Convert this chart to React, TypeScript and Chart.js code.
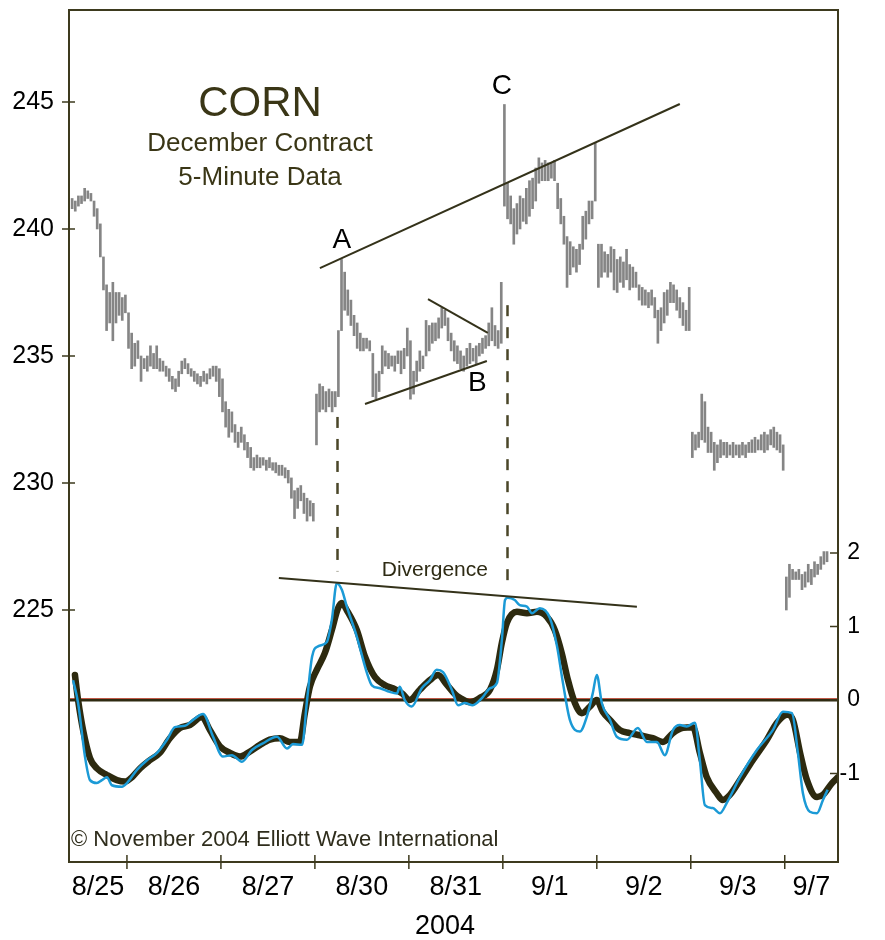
import React, { useEffect, useRef } from 'react';
import { Chart, registerables } from 'chart.js';

Chart.register(...registerables);

// ---------- data ----------
const dayLabels = ['8/25', '8/26', '8/27', '8/30', '8/31', '9/1', '9/2', '9/3', '9/7'];
const yearLabel = '2004';
const barsPerDay = 30;
// first visible 5-minute slot of each session
const firstSlot = [12, 0, 0, 0, 0, 0, 0, 0, 0];

// [low, high] for each 5-minute bar
const aug25 = [[240.8,241.2],[240.7,241.1],[240.9,241.3],[241.0,241.3],[241.1,241.6],[241.2,241.5],[241.1,241.4],[240.5,241.1],[240.0,240.8],[238.9,240.2],[237.6,238.9],[236.0,237.8],[236.3,237.5],[235.6,237.9],[236.3,237.5],[236.6,237.5],[236.4,237.3],[236.7,237.4]];
const aug26 = [[235.3,236.7],[234.5,235.9],[234.6,235.5],[234.9,235.6],[234.0,235.0],[234.5,234.9],[234.4,235.0],[234.6,235.4],[234.5,235.1],[234.5,235.4],[234.4,234.9],[234.4,234.8],[234.2,234.6],[234.0,234.5],[233.7,234.2],[233.6,234.1],[233.8,234.4],[234.3,234.8],[234.5,234.9],[234.3,234.7],[234.2,234.5],[234.0,234.4],[233.9,234.3],[233.8,234.2],[234.0,234.4],[233.9,234.3],[234.1,234.5],[234.2,234.6],[234.0,234.6],[233.4,234.5]];
const aug27 = [[232.8,234.1],[232.2,233.2],[231.8,232.9],[232.0,232.8],[231.6,232.3],[231.4,232.0],[231.6,232.2],[231.3,231.9],[231.0,231.6],[230.6,231.4],[230.5,231.0],[230.6,231.1],[230.6,231.0],[230.7,231.0],[230.5,230.9],[230.6,231.0],[230.5,230.8],[230.4,230.8],[230.3,230.7],[230.3,230.7],[230.2,230.6],[230.0,230.5],[229.4,230.2],[228.6,229.7],[229.0,229.8],[229.3,229.9],[228.8,229.6],[228.5,229.4],[228.7,229.3],[228.5,229.2]];
const aug30 = [[231.5,233.5],[232.8,233.9],[232.9,233.8],[232.8,233.6],[233.0,233.7],[232.8,233.6],[233.0,233.6],[233.4,236.0],[236.0,238.8],[236.8,238.3],[236.6,237.6],[236.2,237.2],[235.8,236.6],[235.3,236.3],[235.2,235.9],[235.2,235.7],[235.3,235.7],[235.2,235.6],[233.4,235.1],[233.3,234.3],[233.6,234.4],[234.3,235.4],[234.6,235.2],[234.5,235.1],[234.6,235.0],[234.4,235.0],[234.7,235.2],[234.3,235.2],[234.5,235.3],[235.0,236.1]];
const aug31 = [[233.3,235.6],[233.5,234.4],[234.0,234.8],[234.4,235.2],[234.5,235.0],[235.0,236.4],[235.2,236.2],[235.5,236.3],[235.6,236.3],[235.7,236.5],[236.1,236.9],[236.2,236.8],[235.6,236.5],[235.2,235.9],[234.8,235.6],[234.7,235.4],[234.5,235.2],[234.4,235.0],[234.6,235.3],[234.7,235.5],[234.8,235.3],[234.7,235.4],[235.0,235.5],[235.1,235.7],[235.3,235.8],[235.4,236.3],[235.6,236.9],[235.4,236.2],[235.3,236.0],[235.5,237.9]];
const sep1 = [[240.9,244.9],[240.4,241.8],[240.2,241.3],[239.4,240.8],[239.8,241.0],[240.0,241.3],[240.3,241.2],[240.2,241.6],[240.5,241.9],[240.8,242.0],[241.1,242.4],[241.8,242.8],[241.9,242.6],[241.9,242.7],[241.9,242.6],[242.0,242.6],[241.9,242.7],[240.8,241.8],[240.2,241.2],[239.4,240.5],[237.7,239.7],[238.2,239.5],[238.5,239.3],[238.3,239.2],[238.6,239.4],[239.2,240.5],[239.6,240.7],[240.2,241.1],[240.4,241.1],[241.1,243.4]];
const sep2 = [[237.7,239.4],[238.1,239.4],[238.3,239.1],[238.1,239.0],[238.3,239.3],[237.6,239.2],[237.5,238.8],[237.9,238.9],[237.7,238.7],[238.0,239.2],[237.6,238.6],[237.7,238.5],[237.7,238.3],[237.2,237.8],[237.0,237.7],[237.0,237.6],[236.9,237.5],[237.0,237.6],[236.5,237.3],[235.5,236.8],[236.0,236.9],[236.3,237.5],[236.6,237.6],[237.1,237.9],[237.1,237.8],[236.8,237.6],[236.5,237.3],[236.2,237.1],[236.0,236.8],[236.0,237.7]];
const sep3 = [[231.0,232.0],[231.3,231.9],[231.4,232.0],[231.7,233.5],[231.6,233.2],[231.2,232.2],[231.2,232.0],[230.5,231.6],[230.8,231.5],[231.0,231.7],[231.1,231.6],[231.0,231.6],[231.1,231.5],[231.0,231.6],[231.1,231.5],[231.0,231.5],[231.1,231.6],[231.0,231.5],[231.2,231.6],[231.2,231.7],[231.2,231.8],[231.3,231.7],[231.3,231.9],[231.2,232.0],[231.3,231.9],[231.5,232.1],[231.4,232.2],[231.3,232.0],[231.2,231.9],[230.5,231.5]];
const sep7 = [[225.0,226.3],[225.5,226.8],[226.2,226.6],[226.2,226.5],[226.2,226.6],[225.8,226.4],[225.9,226.5],[226.1,226.8],[226.0,226.6],[226.3,226.9],[226.4,226.8],[226.6,227.1],[226.8,227.3],[226.9,227.3]];

// oscillator: [time in 5-minute slots, value]
const smoothOsc = [[13.4,0.34],[14.4,0.0],[16.0,-0.41],[18.2,-0.79],[20.4,-0.93],[23.6,-1.02],[26.8,-1.09],[29.4,-1.11],[31.6,-1.05],[34.2,-0.93],[37.3,-0.82],[40.5,-0.72],[43.7,-0.52],[46.9,-0.38],[50.1,-0.34],[53.9,-0.23],[56.5,-0.41],[59.7,-0.63],[62.9,-0.72],[66.1,-0.77],[69.3,-0.70],[72.5,-0.61],[75.6,-0.54],[78.8,-0.52],[82.0,-0.57],[85.2,-0.57],[86.8,-0.18],[88.4,0.18],[90.6,0.41],[93.2,0.64],[95.4,0.95],[97.4,1.25],[98.6,1.32],[100.2,1.22],[103.4,0.95],[106.0,0.59],[109.2,0.31],[112.4,0.20],[114.9,0.16],[117.8,0.09],[120.3,0.0],[123.5,0.14],[126.7,0.27],[129.3,0.34],[132.1,0.21],[134.7,0.08],[136.3,0.03],[139.5,-0.03],[142.7,0.03],[145.9,0.14],[148.1,0.41],[149.7,0.78],[151.3,1.05],[154.5,1.20],[157.7,1.18],[160.9,1.20],[164.1,1.13],[166.6,0.95],[168.8,0.64],[170.8,0.27],[173.0,-0.04],[175.2,-0.18],[177.8,-0.09],[180.0,0.0],[181.9,-0.16],[184.2,-0.27],[187.4,-0.41],[190.5,-0.45],[193.7,-0.48],[197.9,-0.52],[201.1,-0.57],[204.3,-0.45],[207.5,-0.38],[210.7,-0.37],[212.9,-0.72],[215.1,-1.05],[218.3,-1.27],[220.2,-1.36],[222.5,-1.29],[225.7,-1.09],[229.8,-0.82],[234.3,-0.54],[237.5,-0.31],[240.7,-0.20],[242.6,-0.27],[244.9,-0.72],[247.1,-1.09],[250.3,-1.32],[252.2,-1.29],[255.1,-1.13],[257.0,-1.05]];
const rawOsc = [[12.8,0.27],[14.4,-0.04],[16.6,-0.77],[18.2,-1.09],[20.4,-1.13],[22.0,-1.09],[23.6,-1.05],[25.2,-1.16],[28.4,-1.18],[30.0,-1.13],[33.2,-0.95],[36.4,-0.82],[39.6,-0.72],[42.8,-0.54],[45.3,-0.37],[48.5,-0.35],[51.1,-0.27],[54.3,-0.19],[57.5,-0.50],[60.6,-0.77],[63.5,-0.75],[66.7,-0.84],[69.9,-0.68],[73.4,-0.59],[77.9,-0.50],[81.1,-0.66],[83.0,-0.60],[85.9,-0.61],[87.5,0.0],[89.1,0.59],[91.0,0.73],[93.8,0.79],[95.4,1.09],[97.0,1.59],[98.6,1.50],[100.2,1.27],[103.4,0.86],[106.6,0.37],[108.2,0.20],[110.8,0.16],[113.9,0.11],[116.2,0.09],[117.1,0.18],[118.7,0.0],[120.9,-0.09],[124.1,0.16],[126.7,0.27],[128.9,0.41],[130.9,0.38],[133.7,0.14],[135.7,-0.07],[137.9,-0.04],[140.4,-0.07],[143.6,0.04],[145.9,0.16],[148.1,0.23],[149.7,0.82],[150.7,1.36],[151.6,1.39],[153.8,1.36],[155.4,1.29],[157.7,1.27],[159.3,1.18],[161.8,1.25],[165.0,1.12],[167.3,0.73],[169.2,0.23],[171.4,-0.27],[174.6,-0.43],[176.8,-0.23],[178.7,0.09],[180.0,0.34],[181.6,-0.04],[184.2,-0.27],[186.4,-0.50],[189.6,-0.54],[193.1,-0.38],[196.0,-0.57],[199.2,-0.57],[201.7,-0.75],[204.3,-0.41],[206.5,-0.34],[208.7,-0.36],[211.3,-0.31],[212.9,-0.82],[214.5,-1.43],[217.0,-1.47],[219.3,-1.54],[221.5,-1.40],[225.7,-1.05],[231.1,-0.68],[236.2,-0.41],[239.4,-0.16],[242.3,-0.18],[244.2,-0.72],[245.8,-1.27],[248.0,-1.52],[250.3,-1.54],[252.2,-1.36],[253.7,-1.22]];

const priceTicks = [225, 230, 235, 240, 245];
const oscTicks = [-1, 0, 1, 2];
const priceRange = [215.08, 248.62];
const oscRange = [-2.204, 9.388];
const timeRange = [11.5, 257];

// annotations (time slot, price / oscillator value)
const trendAC = [[91.6, 238.46], [206.5, 244.92]];
const triangleLow = [[106.0, 233.11], [144.9, 234.80]];
const triangleHigh = [[126.1, 237.24], [145.2, 235.91]];
const divergenceLine = [[78.5, 1.66], [192.8, 1.27]];
const dashedMarks = [
  { t: 97.0, price: 232.6, osc: 1.75 },
  { t: 151.3, price: 237.0, osc: 1.56 },
];
const waveLabels = [
  { text: 'A', t: 98.6, price: 239.57 },
  { text: 'B', t: 141.9, price: 233.94 },
  { text: 'C', t: 149.7, price: 245.6 },
];
const divergenceLabel = { text: 'Divergence', t: 128.3, osc: 1.76 };
const titleLines = ['CORN', 'December Contract', '5-Minute Data'];
const copyright = '\u00A9 November 2004 Elliott Wave International';

const FONT = '"Liberation Sans", Arial, Helvetica, sans-serif';
const OLIVE = '#3a3616';
const FRAME = '#3d3a1e';

const sessions = [aug25, aug26, aug27, aug30, aug31, sep1, sep2, sep3, sep7];

function buildBars() {
  const out: { x: number; y: number[] }[] = [];
  sessions.forEach((bars, d) => {
    bars.forEach((b, i) => {
      out.push({ x: d * barsPerDay + firstSlot[d] + i + 0.5, y: b });
    });
  });
  return out;
}

function labelCenters() {
  return dayLabels.map((_, d) => {
    const a = Math.max(d * barsPerDay, timeRange[0]);
    const b = Math.min((d + 1) * barsPerDay, timeRange[1]);
    return (a + b) / 2;
  });
}

const overlay = {
  id: 'overlay',
  beforeDatasetsDraw(chart: any) {
    const { ctx, chartArea: ca, scales } = chart;
    const y0 = scales.y2.getPixelForValue(0);
    ctx.save();
    ctx.strokeStyle = '#2e2a10';
    ctx.lineWidth = 3;
    ctx.beginPath();
    ctx.moveTo(ca.left, y0);
    ctx.lineTo(ca.right, y0);
    ctx.stroke();
    ctx.strokeStyle = 'rgba(205,70,50,0.75)';
    ctx.lineWidth = 1;
    ctx.beginPath();
    ctx.moveTo(ca.left, y0 - 1.5);
    ctx.lineTo(ca.right, y0 - 1.5);
    ctx.stroke();
    ctx.restore();
  },
  afterDatasetsDraw(chart: any) {
    const { ctx, chartArea: ca, scales } = chart;
    const x = scales.x, y = scales.y, y2 = scales.y2;
    ctx.save();
    // frame
    ctx.strokeStyle = FRAME;
    ctx.lineWidth = 2;
    ctx.strokeRect(ca.left, ca.top, ca.right - ca.left, ca.bottom - ca.top);
    // tick marks
    ctx.lineWidth = 1.5;
    ctx.beginPath();
    priceTicks.forEach((v) => {
      const py = y.getPixelForValue(v);
      ctx.moveTo(ca.left - 7, py);
      ctx.lineTo(ca.left + 6, py);
    });
    oscTicks.forEach((v) => {
      const py = y2.getPixelForValue(v);
      ctx.moveTo(ca.right - 8, py);
      ctx.lineTo(ca.right + 1, py);
    });
    for (let d = 1; d < dayLabels.length; d++) {
      const px = x.getPixelForValue(d * barsPerDay);
      ctx.moveTo(px, ca.bottom - 7);
      ctx.lineTo(px, ca.bottom + 7);
    }
    ctx.stroke();

    // right-axis labels, right aligned
    ctx.fillStyle = '#000';
    ctx.font = `23px ${FONT}`;
    ctx.textAlign = 'right';
    ctx.textBaseline = 'middle';
    oscTicks.forEach((v) => {
      ctx.fillText(String(v), ca.right + 22, y2.getPixelForValue(v));
    });

    // trend lines
    ctx.strokeStyle = '#34321a';
    ctx.lineWidth = 2;
    const seg = (pts: number[][], sc: any) => {
      ctx.beginPath();
      ctx.moveTo(x.getPixelForValue(pts[0][0]), sc.getPixelForValue(pts[0][1]));
      ctx.lineTo(x.getPixelForValue(pts[1][0]), sc.getPixelForValue(pts[1][1]));
      ctx.stroke();
    };
    seg(trendAC, y);
    seg(triangleLow, y);
    seg(triangleHigh, y);
    seg(divergenceLine, y2);

    // dashed verticals
    ctx.strokeStyle = '#4a4628';
    ctx.lineWidth = 2.5;
    ctx.setLineDash([11, 11]);
    dashedMarks.forEach((m) => {
      const px = Math.round(x.getPixelForValue(m.t)) + 0.5;
      ctx.beginPath();
      ctx.moveTo(px, y.getPixelForValue(m.price));
      ctx.lineTo(px, y2.getPixelForValue(m.osc));
      ctx.stroke();
    });
    ctx.setLineDash([]);

    // texts
    ctx.textAlign = 'center';
    ctx.textBaseline = 'middle';
    ctx.fillStyle = '#000';
    ctx.font = `28px ${FONT}`;
    waveLabels.forEach((l) => {
      ctx.fillText(l.text, x.getPixelForValue(l.t), y.getPixelForValue(l.price));
    });
    ctx.fillStyle = '#2e2b14';
    ctx.font = `21px ${FONT}`;
    ctx.fillText(divergenceLabel.text, x.getPixelForValue(divergenceLabel.t), y2.getPixelForValue(divergenceLabel.osc));

    // title block
    const cx = ca.left + 191;
    ctx.fillStyle = OLIVE;
    ctx.textBaseline = 'alphabetic';
    ctx.font = `42px ${FONT}`;
    ctx.fillText(titleLines[0], cx, ca.top + 106);
    ctx.font = `26px ${FONT}`;
    ctx.fillText(titleLines[1], cx, ca.top + 141);
    ctx.fillText(titleLines[2], cx, ca.top + 175);

    // copyright
    ctx.textAlign = 'left';
    ctx.fillStyle = '#2f2d1c';
    ctx.font = `22px ${FONT}`;
    ctx.fillText(copyright, ca.left + 2, ca.bottom - 16);

    // year under the axis
    ctx.textAlign = 'center';
    ctx.fillStyle = '#000';
    ctx.font = `27px ${FONT}`;
    ctx.fillText(yearLabel, 445, ca.bottom + 72);
    ctx.restore();
  },
};

export default function App() {
  const ref = useRef<HTMLCanvasElement | null>(null);
  useEffect(() => {
    document.body.style.margin = '0';
    const canvas = ref.current!;
    const centers = labelCenters();
    const chart = new Chart(canvas, {
      type: 'bar',
      data: {
        datasets: [
          {
            type: 'line',
            label: 'raw',
            data: rawOsc.map((p) => ({ x: p[0], y: p[1] })),
            yAxisID: 'y2',
            borderColor: '#1b9ad6',
            borderWidth: 2.5,
            pointRadius: 0,
            fill: false,
            cubicInterpolationMode: 'monotone',
            order: 0,
          } as any,
          {
            type: 'line',
            label: 'smooth',
            data: smoothOsc.map((p) => ({ x: p[0], y: p[1] })),
            yAxisID: 'y2',
            borderColor: '#2d2a0f',
            borderWidth: 6.5,
            borderCapStyle: 'round',
            pointRadius: 0,
            fill: false,
            cubicInterpolationMode: 'monotone',
            order: 1,
          } as any,
          {
            type: 'bar',
            label: 'price',
            data: buildBars() as any,
            yAxisID: 'y',
            backgroundColor: '#858585',
            borderWidth: 0,
            barThickness: 2,
            grouped: false,
            order: 2,
          } as any,
        ],
      },
      options: {
        responsive: false,
        maintainAspectRatio: false,
        animation: false,
        layout: { padding: { top: 10, left: 0, right: 0, bottom: 0 } },
        plugins: { legend: { display: false }, tooltip: { enabled: false } },
        scales: {
          x: {
            type: 'linear',
            min: timeRange[0],
            max: timeRange[1],
            offset: false,
            grid: { display: false, drawTicks: false },
            border: { display: false },
            afterBuildTicks: (s: any) => {
              s.ticks = centers.map((v) => ({ value: v }));
            },
            afterFit: (s: any) => {
              s.height = 78;
              s.paddingLeft = 0;
              s.paddingRight = 0;
            },
            ticks: {
              autoSkip: false,
              maxRotation: 0,
              minRotation: 0,
              padding: 9,
              color: '#000',
              font: { family: FONT, size: 27 },
              callback: (_v: any, i: number) => dayLabels[i],
            },
          },
          y: {
            type: 'linear',
            position: 'left',
            min: priceRange[0],
            max: priceRange[1],
            grid: { display: false, drawTicks: false },
            border: { display: false },
            afterBuildTicks: (s: any) => {
              s.ticks = priceTicks.map((v) => ({ value: v }));
            },
            afterFit: (s: any) => {
              s.width = 69;
              s.paddingTop = 0;
              s.paddingBottom = 0;
            },
            ticks: {
              padding: 15,
              color: '#000',
              font: { family: FONT, size: 25 },
              callback: (v: any) => String(v),
            },
          },
          y2: {
            type: 'linear',
            position: 'right',
            min: oscRange[0],
            max: oscRange[1],
            grid: { display: false, drawTicks: false },
            border: { display: false },
            afterBuildTicks: (s: any) => {
              s.ticks = oscTicks.map((v) => ({ value: v }));
            },
            afterFit: (s: any) => {
              s.width = 47;
              s.paddingTop = 0;
              s.paddingBottom = 0;
            },
            ticks: { display: false },
          },
        },
      },
      plugins: [overlay],
    });
    return () => chart.destroy();
  }, []);
  return <canvas ref={ref} width={885} height={940} style={{ display: 'block' }} />;
}
